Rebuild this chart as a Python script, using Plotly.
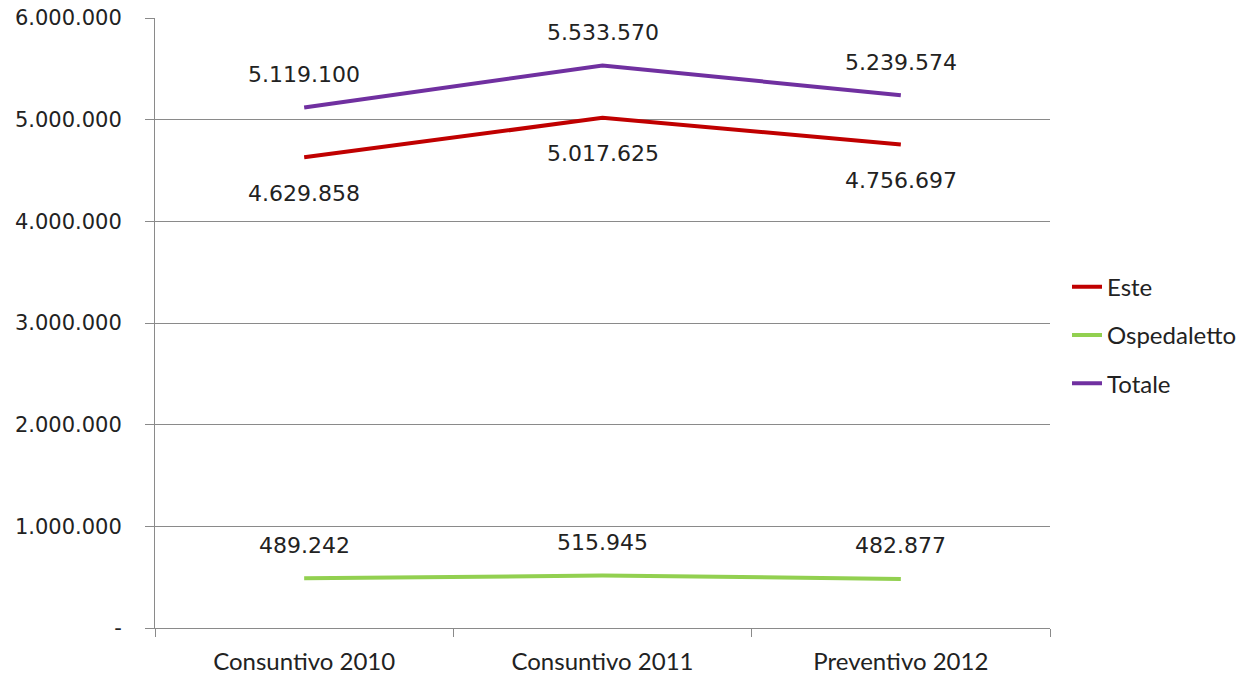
import plotly.graph_objects as go

categories = ["Consuntivo 2010", "Consuntivo 2011", "Preventivo 2012"]
este = [4629858, 5017625, 4756697]
ospedaletto = [489242, 515945, 482877]
totale = [5119100, 5533570, 5239574]
ytick_vals = [0, 1000000, 2000000, 3000000, 4000000, 5000000, 6000000]
ytick_text = ["-", "1.000.000", "2.000.000", "3.000.000", "4.000.000", "5.000.000", "6.000.000"]

def fmt(v):
    return f"{v:,}".replace(",", ".")

series = [
    ("Este", este, "#C00000", -36),
    ("Ospedaletto", ospedaletto, "#92D050", 33),
    ("Totale", totale, "#7030A0", 33),
]

fig = go.Figure()
for i, (name, vals, color, shift) in enumerate(series):
    fig.add_trace(go.Scatter(
        x=categories, y=vals, mode="lines", name=name,
        line=dict(color=color, width=4), legendgroup=name,
    ))
    for c, v in zip(categories, vals):
        fig.add_annotation(x=c, y=v, text=fmt(v), showarrow=False, yshift=shift,
                           font=dict(family="DejaVu Sans", size=22, color="#222222"))

fig.update_layout(
    width=1238, height=667,
    margin=dict(l=147, r=196, t=10, b=47, autoexpand=False),
    paper_bgcolor="white", plot_bgcolor="white",
    showlegend=True,
    legend=dict(x=1.019, xanchor="left", y=0.48, yanchor="middle",
                font=dict(family="Lato", size=24, color="#222222"),
                tracegroupgap=14, bgcolor="rgba(0,0,0,0)"),
)
fig.update_xaxes(
    type="category", tickson="boundaries", ticks="outside", ticklen=8,
    tickcolor="#8a8a8a", showline=True, linecolor="#8a8a8a", linewidth=1,
    showgrid=False, tickfont=dict(family="Lato", size=24, color="#222222"),
    range=[-0.5, 2.5], automargin=False, ticklabelstandoff=12,
)
fig.update_yaxes(
    range=[0, 6000000], tickvals=ytick_vals, ticktext=ytick_text,
    showgrid=True, gridcolor="#8a8a8a", gridwidth=1,
    ticks="outside", ticklen=9, tickcolor="#8a8a8a",
    showline=True, linecolor="#8a8a8a", linewidth=1, zeroline=False,
    tickfont=dict(family="DejaVu Sans", size=21, color="#222222"),
    ticklabelstandoff=19, automargin=False, ticklabeloverflow="allow",
)
fig.write_html("out.html")
